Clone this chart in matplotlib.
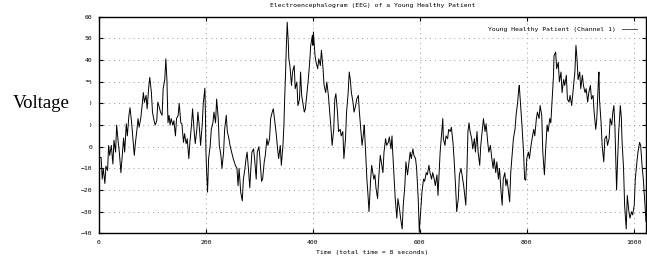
import matplotlib
matplotlib.use("Agg")
import matplotlib.pyplot as plt
from matplotlib.patches import Rectangle

# ---- data (sample index, voltage) ----
t = [0, 4, 6, 8, 11, 13, 16, 18, 20, 23,
     26, 28, 31, 33, 36, 38, 41, 43, 46, 48,
     51, 53, 56, 58, 61, 63, 66, 68, 71, 73,
     75, 78, 80, 83, 85, 88, 90, 93, 95, 98,
     100, 103, 105, 108, 110, 113, 115, 118, 120, 123,
     125, 127, 129, 131, 133, 135, 138, 140, 143, 145,
     148, 150, 153, 155, 158, 160, 163, 165, 168, 170,
     173, 175, 178, 180, 183, 185, 188, 190, 193, 195,
     198, 199, 200, 201, 203, 205, 208, 210, 213, 215,
     218, 220, 223, 225, 228, 230, 233, 235, 238, 240,
     243, 245, 248, 251,
     255, 258, 260, 262, 265, 268, 270, 273, 275, 277,
     280, 282, 284, 286, 289, 291, 294, 296, 299, 301,
     304, 306, 309, 311, 314, 316, 319, 321, 324, 326,
     329, 331, 334, 336, 339, 341, 344, 346, 347, 349,
     350, 352, 354, 355, 357, 360, 362, 365, 367, 370,
     372, 375,
     377, 379, 381, 384, 386, 389, 391, 394, 396, 399,
     400, 401, 404, 406, 409, 411, 414, 416, 419, 421,
     424, 426, 429, 431, 434, 436, 439, 441, 443, 446,
     448, 451, 453, 456, 458, 461, 463, 466, 468, 470,
     472, 475, 477, 480, 482, 485, 487, 490, 492, 495,
     496, 498, 501,
     503, 505, 508, 510, 512, 514, 516, 518, 521, 523,
     526, 528, 531, 533, 536, 538, 541, 543, 546, 548,
     549, 552, 554, 557, 559, 562, 564, 567, 569, 572,
     574, 577, 579, 582, 584, 587, 589, 592, 594, 597,
     599, 602, 604, 607, 609, 612, 614, 617, 619, 622,
     624, 627, 629, 632,
     634, 636, 638, 641, 643, 644, 647, 649, 652, 654,
     657, 659, 662, 664, 667, 669, 672, 674, 677, 679,
     682, 684, 686, 688, 690, 692, 694, 697, 699, 702,
     704, 707, 709, 712, 714, 717, 719, 722, 724, 727,
     729, 732, 734, 737, 739, 742, 744, 747, 749, 752,
     754, 756, 759,
     761, 763, 765, 768, 770, 773, 775, 778, 780, 783,
     785, 786, 789, 791, 794, 796, 798, 800, 803, 805,
     808, 810, 813, 815, 818, 820, 823, 825, 828, 830,
     833, 835, 838, 840, 843, 845, 848, 850, 851, 854,
     856, 859, 861, 864, 866, 869, 871, 874, 876, 879,
     881, 884,
     887, 890, 892, 894, 896, 899, 901, 904, 906, 909,
     911, 914, 916, 919, 921, 924, 926, 929, 931, 934,
     935, 936, 939, 941, 944, 946, 949, 951, 954, 956,
     959, 961, 963, 965, 968, 970, 972, 975, 977, 978,
     981, 983, 986, 988, 991, 993, 996, 998, 1001, 1003,
     1006, 1008, 1011, 1013, 1016, 1018, 1021, 1023]

v = [-5, -5, -15, -10, -17, -9, -11, 0.6, -4, 0.6,
     -8, 3, -2.5, 10, 2, -2.5, -12, -5.5, 4, -2.5,
     10.6, 5, 14.5, 18, 11, 5, -4, 1.5, 8, 13,
     9, 13, 17.5, 25, 20.5, 23.7, 17.5, 27.5, 32, 25,
     16, 12, 10, 12, 20.6, 18, 16, 14.5, 26.8, 31,
     40.6, 31, 11, 14.5, 10, 13, 10, 12, 5, 13,
     14.5, 20, 11, 10.6, 2, 6, 1.4, 3.7, -5.5, 2,
     10, 17.5, 7, 1.4, 8, 16, 8, 0.6, 10, 20,
     27, 16, -2.5, -10, -21, -5.5, 0.6, 8, 11, 16,
     11, 22, 13, 0.6, -4, -10, -2.5, 8, 14.5, 7,
     3.7, 0.6, -2.5, -5.5,
     -8.6, -10, -18, -10, -21, -25, -15, -10, -5.5, -2.5,
     -12, -19, -10, -2.5, -1, -5.5, -15, -2.5, 0, -5.5,
     -16, -15, -7, -4, 3.7, 0.6, 3.7, 13, 16, 17.5,
     11, 7, -1, -5.5, 0.6, -8.6, 0.6, 11, 20.6, 34.5,
     43.7, 57.5, 48.3, 40.6, 37.5, 28.3, 34.5, 37.5, 26.8, 29.9,
     19, 22,
     34.5, 23.7, 20.6, 16, 17.5, 25, 29.9, 39, 46.8, 51.4,
     46.8, 53, 42, 39, 36, 40.6, 37.5, 44.5, 36, 28.3,
     25, 29.9, 23.7, 17.5, 8, 0.6, 8, 22, 24.5, 16,
     7, 8, 5, 7, -5.5, 3.7, 16, 25, 34.5, 31,
     25, 20.6, 16, 19, 22, 23.7, 16, 7, 0.6, 7,
     10, 0.6, -15,
     -22, -30, -15, -8.6, -12, -15, -13, -19, -24, -15,
     -4, -7, -12, -2.5, 3.7, 0.6, 2, 4.5, -1, 5,
     -1, -15, -24, -33, -24, -28.6, -33, -38, -27, -18,
     -7, -13, -8.6, -2.5, -5.5, -1, -4, -5.5, -10, -24,
     -39.5, -28.6, -21, -15, -16, -12, -13, -8.6, -12, -15,
     -12, -15, -18, -13,
     -22.5, -12, -2.5, 7, 13, 3.7, 0.6, 5, 3.7, 8,
     7, 9, 2, -5.5, -19, -30, -24, -13, -10, -13,
     -18, -22.5, -27, -12, 7, 11, 7, 3.7, -1, 3.7,
     -2.5, 7, -2.5, -8.6, 0.6, 8, 13, 7, 10.6, 2,
     -2.5, 0.6, -4, -10, -5.5, -12, -7, -15, -10, -21,
     -27, -15, -12,
     -18, -15, -19, -25.5, -12, -2.5, 3.7, 8, 14.5, 20.6,
     26.8, 28.3, 17.5, 10, -2.5, -15, -15.5, -5.5, -2.5, -5.5,
     0.6, 3.7, 8, 5, 13, 16, 13, 19, 14.5, -2.5,
     -13, -2.5, 10, 7, 13, 11, 23.7, 33, 42, 43.7,
     36, 39, 29.9, 34.5, 25, 31, 28.3, 33, 22, 20.6,
     23.7, 19,
     26.8, 34.5, 46.8, 40.6, 31, 34.5, 26.8, 33, 28.3, 25,
     26.8, 20.6, 25, 28.3, 22, 23.7, 16, 8, 13, 31,
     34.5, 22, 11, 0.6, -7, 3.7, 5, 0.6, 3.7, 13,
     10, 16, 19, 8, -20, -5.5, 7, 19, 13, 3.7,
     -10, -27, -38, -22.5, -30, -33, -30, -31.5, -27, -15,
     -7, -2.5, 2, 0.6, -10, -15, -27, -34.5]

title = "Electroencephalogram (EEG) of a Young Healthy Patient"
xlabel = "Time (total time = 8 seconds)"
ylabel = "Voltage"
series_label = "Young Healthy Patient (Channel 1)"
xticks = [0, 200, 400, 600, 800, 1000]
yticks = [-40, -30, -20, -10, 0, 10, 20, 30, 40, 50, 60]

W, H = 647, 265
fig = plt.figure(figsize=(W / 100, H / 100), dpi=100)
ax = fig.add_axes([99 / W, 1 - 233.3 / H, (646 - 99) / W, (233.3 - 16.8) / H])

mono = "DejaVu Sans Mono"
fs = 4.6

ax.plot(t, v, color="black", lw=0.7, label=series_label)
ax.set_xlim(0, 1023)
ax.set_ylim(-40, 60)
ax.set_xticks(xticks)
ax.set_yticks(yticks)
ax.tick_params(direction="in", length=3, width=0.8, top=True, right=True,
               labelsize=fs, colors="black", pad=5)
for lab in ax.get_xticklabels() + ax.get_yticklabels():
    lab.set_family(mono)
ax.grid(True, color="#999999", linestyle=(0, (1, 4)), lw=0.7)
for s in ax.spines.values():
    s.set_linewidth(1.0)
    s.set_color("black")

ax.set_title(title, fontsize=fs, family=mono, pad=7)
ax.set_xlabel(xlabel, fontsize=fs, family=mono, labelpad=3.5)

leg = ax.legend(loc="upper right", frameon=False, prop={"family": mono, "size": fs},
                markerfirst=False, handlelength=2.4, handletextpad=0.9,
                borderaxespad=0.6, bbox_to_anchor=(0.995, 0.985))
for h in leg.legend_handles:
    h.set_color("#555555")

# white box behind the "Voltage" label (covers part of the tick labels as in reference)
fig.add_artist(Rectangle((0, 1 - 128 / H), 89.5 / W, (128 - 82) / H,
                         transform=fig.transFigure, facecolor="white",
                         edgecolor="none", zorder=5))
fig.text(41.5 / W, 1 - 104 / H, ylabel, family="Liberation Serif", fontsize=13.5,
         ha="center", va="center", zorder=6)

fig.savefig("out.png", dpi=100)
